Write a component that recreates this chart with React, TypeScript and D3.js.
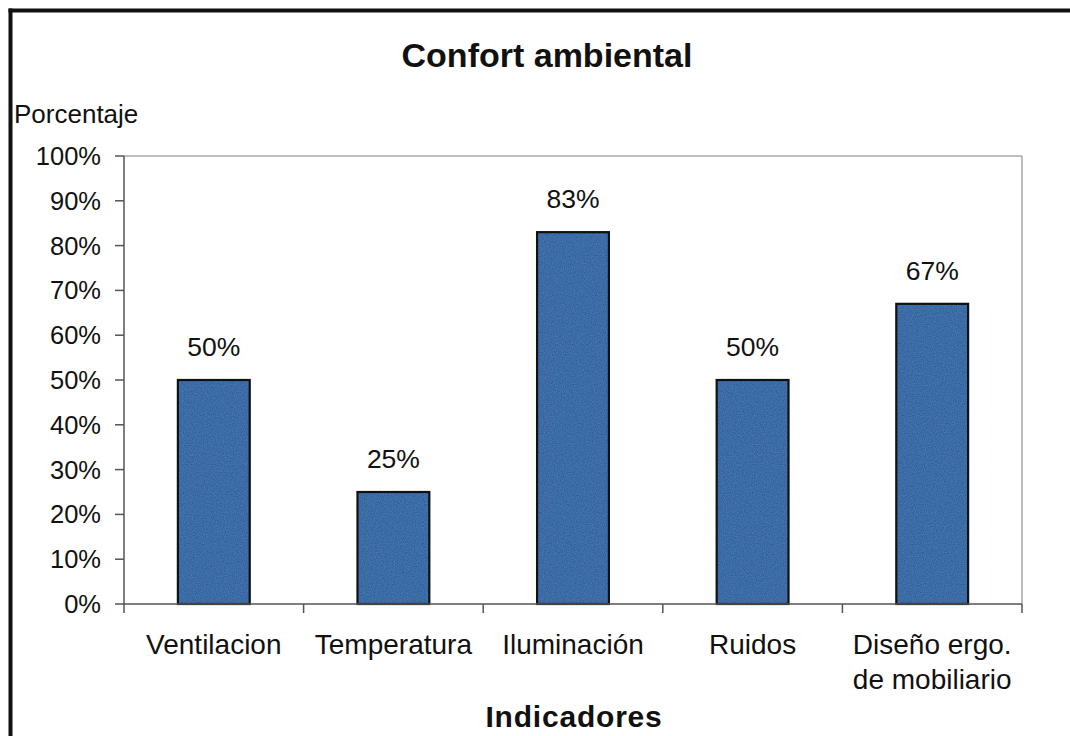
import React from "react";
import * as d3 from "d3";

const categories = ["Ventilacion", "Temperatura", "Iluminación", "Ruidos", "Diseño ergo. de mobiliario"];
const categoryLines = [["Ventilacion"], ["Temperatura"], ["Iluminación"], ["Ruidos"], ["Diseño ergo.", "de mobiliario"]];
const values = [0.5, 0.25, 0.83, 0.5, 0.67];
const yTicks = [0, 0.1, 0.2, 0.3, 0.4, 0.5, 0.6, 0.7, 0.8, 0.9, 1.0];
const title = "Confort ambiental";
const yTitle = "Porcentaje";
const xTitle = "Indicadores";

const W = 1070;
const H = 736;
const FONT = "'Liberation Sans', Arial, sans-serif";

export default function App() {
  const left = 124, right = 1022, top = 156, bottom = 604;
  const x = d3.scaleBand<string>().domain(categories).range([left, right]).paddingInner(0.6).paddingOuter(0.3);
  const y = d3.scaleLinear().domain([0, 1]).range([bottom, top]);
  const fmt = d3.format(".0%");
  const step = x.step();
  const boundaries = d3.range(categories.length + 1).map((i) => left + i * step);

  return (
    <svg width={W} height={H} style={{ position: "absolute", left: 0, top: 0, background: "#fff", display: "block" }} fontFamily={FONT}>
      <defs>
        <filter id="grain" x="0" y="0" width="100%" height="100%">
          <feTurbulence type="fractalNoise" baseFrequency="0.9" numOctaves="2" seed="3" result="n" />
          <feColorMatrix in="n" type="matrix" values="0 0 0 0 0.25  0 0 0 0 0.5  0 0 0 0 0.8  0 0 0 0.3 0" result="c" />
          <feComposite in="c" in2="SourceGraphic" operator="in" result="m" />
          <feMerge>
            <feMergeNode in="SourceGraphic" />
            <feMergeNode in="m" />
          </feMerge>
        </filter>
      </defs>
      <rect x={0} y={0} width={W} height={H} fill="#fff" />
      {/* outer frame (left and top edges visible) */}
      <line x1={10.5} x2={10.5} y1={8.5} y2={H} stroke="#111" strokeWidth={4} />
      <line x1={8.5} x2={W} y1={10.5} y2={10.5} stroke="#111" strokeWidth={4} />

      {/* title */}
      <text x={547} y={67} textAnchor="middle" fontSize={34} fontWeight="bold" fill="#111">{title}</text>
      <text x={14} y={123} fontSize={26} fill="#111">{yTitle}</text>

      {/* plot border (top/right) */}
      <line x1={left} x2={right} y1={top} y2={top} stroke="#a8a8a8" strokeWidth={1.5} />
      <line x1={right} x2={right} y1={top} y2={bottom} stroke="#a8a8a8" strokeWidth={1.5} />

      {/* y axis */}
      <line x1={left} x2={left} y1={top} y2={bottom} stroke="#555" strokeWidth={1.5} />
      {yTicks.map((t) => (
        <g key={t}>
          <line x1={left - 9} x2={left} y1={y(t)} y2={y(t)} stroke="#555" strokeWidth={1.5} />
          <text x={101} y={y(t) + 9} textAnchor="end" fontSize={25.5} fill="#111">{fmt(t)}</text>
        </g>
      ))}

      {/* bars */}
      {categories.map((c, i) => (
        <g key={c}>
          <rect
            x={x(c)}
            y={y(values[i])}
            width={x.bandwidth()}
            height={bottom - y(values[i])}
            fill="#1d5597"
            filter="url(#grain)"
          />
          <rect x={x(c)} y={y(values[i])} width={x.bandwidth()} height={bottom - y(values[i])} fill="none" stroke="#111" strokeWidth={2.2} />
          <text x={(x(c) as number) + x.bandwidth() / 2} y={y(values[i]) - 24} textAnchor="middle" fontSize={26.5} fill="#111">
            {fmt(values[i])}
          </text>
        </g>
      ))}

      {/* x axis */}
      <line x1={left} x2={right} y1={bottom} y2={bottom} stroke="#555" strokeWidth={1.5} />
      {boundaries.map((b, i) => (
        <line key={i} x1={b} x2={b} y1={bottom} y2={bottom + 9} stroke="#555" strokeWidth={1.5} />
      ))}
      {categories.map((c, i) => (
        <text key={c} x={(x(c) as number) + x.bandwidth() / 2} y={654} textAnchor="middle" fontSize={28} fill="#111">
          {categoryLines[i].map((ln, j) => (
            <tspan key={j} x={(x(c) as number) + x.bandwidth() / 2} dy={j === 0 ? 0 : 35}>{ln}</tspan>
          ))}
        </text>
      ))}

      <text x={574} y={727} textAnchor="middle" fontSize={30} fontWeight="bold" fill="#111" letterSpacing={0.8}>{xTitle}</text>
    </svg>
  );
}
